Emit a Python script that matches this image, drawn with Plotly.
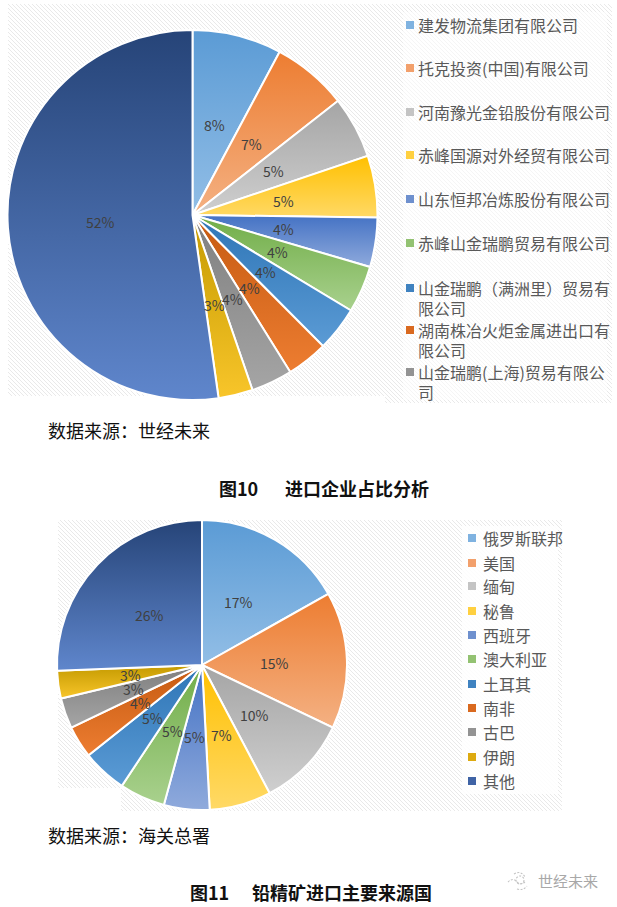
import base64, math
import plotly.graph_objects as go

W, H = 617, 907
FONT = "Noto Sans CJK SC"

# ---- data ----
companies = ["建发物流集团有限公司", "托克投资(中国)有限公司", "河南豫光金铅股份有限公司",
             "赤峰国源对外经贸有限公司", "山东恒邦冶炼股份有限公司", "赤峰山金瑞鹏贸易有限公司",
             "山金瑞鹏（满洲里）贸易有|限公司", "湖南株冶火炬金属进出口有|限公司",
             "山金瑞鹏(上海)贸易有限公|司", "（图例未显示）甲", "（图例未显示）乙"]
company_share = [7.8, 6.6, 5.4, 5.4, 4.3, 4.1, 3.9, 3.6, 3.6, 3.0, 52.2]
company_legend_count = 9

countries = ["俄罗斯联邦", "美国", "缅甸", "秘鲁", "西班牙", "澳大利亚", "土耳其", "南非", "古巴", "伊朗", "其他"]
country_share = [16.9, 15.3, 10.2, 6.9, 5.1, 5.1, 5.0, 3.6, 3.4, 3.1, 25.7]

# ---- style ----
grad_top = ["#5B9BD5", "#ED7D31", "#A5A5A5", "#FFC000", "#4472C4", "#70AD47",
            "#2E75B6", "#C55A11", "#7F7F7F", "#C49A00", "#264478"]
grad_bottom = ["#92BEE6", "#F4B183", "#CFCFCF", "#FFD966", "#8FAADC", "#A9D18E",
               "#5B9BD5", "#ED7D31", "#A5A5A5", "#F8C52A", "#5F86CC"]
legend_swatch = ["#7FB2E0", "#F2A06C", "#C4C4C4", "#FFD040", "#6E90CE", "#93C272",
                 "#3F82C0", "#D9691F", "#939393", "#DDAA10", "#3F63A5"]
label_color = "#404040"
legend_color = "#595959"

pie1 = dict(cx=192.5, cy=215, r=185)
pie2 = dict(cx=202, cy=665, r=145)
legend1_y = [25, 68, 112, 155, 199, 243, 288, 330, 372]
legend2_y = [538, 563, 586, 611, 635, 659, 684, 708, 732, 757, 781]
wrap_gap = 20


def px(x):
    return x / W


def py(y):
    return 1 - y / H


def domain(p):
    return dict(x=[px(p["cx"] - p["r"]), px(p["cx"] + p["r"])],
                y=[py(p["cy"] + p["r"]), py(p["cy"] - p["r"])])


def wedges(values, p, prefix):
    defs, paths, total, acc = [], [], sum(values), 0.0
    for i, v in enumerate(values):
        a0 = acc / total * 2 * math.pi
        acc += v
        a1 = acc / total * 2 * math.pi
        x0, y0 = p["cx"] + p["r"] * math.sin(a0), p["cy"] - p["r"] * math.cos(a0)
        x1, y1 = p["cx"] + p["r"] * math.sin(a1), p["cy"] - p["r"] * math.cos(a1)
        large = 1 if a1 - a0 > math.pi else 0
        gid = f"{prefix}{i}"
        defs.append(f'<linearGradient id="{gid}" x1="0" y1="0" x2="0" y2="1">'
                    f'<stop offset="0" stop-color="{grad_top[i]}"/>'
                    f'<stop offset="1" stop-color="{grad_bottom[i]}"/></linearGradient>')
        paths.append(f'<path d="M{p["cx"]} {p["cy"]}L{x0:.2f} {y0:.2f}A{p["r"]} {p["r"]} 0 {large} 1 {x1:.2f} {y1:.2f}Z" '
                     f'fill="url(#{gid})" stroke="#fff" stroke-width="2"/>')
    return defs, paths


def data_uri(svg):
    return "data:image/svg+xml;base64," + base64.b64encode(svg.encode()).decode()


hatch_svg = f'''<svg xmlns="http://www.w3.org/2000/svg" width="{W}" height="{H}" viewBox="0 0 {W} {H}">
<defs><pattern id="h" width="4" height="4" patternUnits="userSpaceOnUse">
<path d="M-1 -1L5 5M-1 3L1 5M3 -1L5 1" stroke="#E9E9E9" stroke-width="1"/></pattern></defs>
<path fill="url(#h)" d="M8 4H612V403H385V396H8Z"/>
<path fill="url(#h)" d="M58 520H562V811H121V788H58Z"/>
<rect x="462" y="526" width="96" height="268" fill="#fff" fill-opacity="0.85"/>
<rect x="403" y="12" width="204" height="388" fill="#fff" fill-opacity="0.55"/>
</svg>'''

d1, p1 = wedges(company_share, pie1, "a")
d2, p2 = wedges(country_share, pie2, "b")
shade_svg = (f'<svg xmlns="http://www.w3.org/2000/svg" width="{W}" height="{H}" viewBox="0 0 {W} {H}">'
             f'<defs>{"".join(d1 + d2)}</defs>{"".join(p1 + p2)}'
             '<g fill="none" stroke="#C4C4C4" stroke-width="1.1" stroke-dasharray="2 1.5">'
             '<path d="M508 882q5 -5 9 0q4 4 9 -1"/><path d="M514 874q7 -4 11 3"/>'
             '<path d="M517 889q6 2 10 -3"/><circle cx="520" cy="880" r="4"/></g></svg>')

fig = go.Figure()
for vals, labels, p in [(company_share, companies, pie1), (country_share, countries, pie2)]:
    fig.add_trace(go.Pie(labels=[s.replace("|", "") for s in labels], values=vals, sort=False,
                         direction="clockwise", rotation=0,
                         domain=domain(p), textinfo="none", hoverinfo="skip", showlegend=False,
                         marker=dict(colors=grad_top, line=dict(color="#FFFFFF", width=2))))

ann, shapes = [], []


def text(x, y, s, size, color, bold=False, anchor="left"):
    ann.append(dict(x=px(x), y=py(y), xref="paper", yref="paper", text=f"<b>{s}</b>" if bold else s,
                    showarrow=False, xanchor=anchor, yanchor="middle", align="left",
                    font=dict(family=FONT, size=size, color=color), borderpad=0, borderwidth=0))


def pct_labels(values, p):
    total, acc = sum(values), 0.0
    for v in values:
        mid = (acc + v / 2) / total * 2 * math.pi
        acc += v
        text(p["cx"] + 0.5 * p["r"] * math.sin(mid), p["cy"] - 0.5 * p["r"] * math.cos(mid),
             f"{round(v / total * 100)}%", 14, label_color, anchor="center")


pct_labels(company_share, pie1)
pct_labels(country_share, pie2)


def legend(names, ys, sq_x, tx_x):
    for i, (name, y) in enumerate(zip(names, ys)):
        for k, line in enumerate(name.split("|")):
            text(tx_x, y + k * wrap_gap, line, 16, legend_color)
        shapes.append(dict(type="rect", xref="paper", yref="paper", line_width=0, fillcolor=legend_swatch[i],
                           x0=px(sq_x), x1=px(sq_x + 8), y0=py(y + 4), y1=py(y - 4)))


legend(companies[:company_legend_count], legend1_y, 406, 418)
legend(countries, legend2_y, 468, 483)

text(48, 430, "数据来源：世经未来", 18, "#111111")
text(48, 835, "数据来源：海关总署", 18, "#111111")
text(219, 488, "图10", 18, "#111111", bold=True)
text(285, 488, "进口企业占比分析", 18, "#111111", bold=True)
text(190, 892, "图11", 18, "#111111", bold=True)
text(252, 892, "铅精矿进口主要来源国", 18, "#111111", bold=True)
text(538, 880, "世经未来", 15, "#A8A8A8")

fig.update_layout(
    width=W, height=H, margin=dict(l=0, r=0, t=0, b=0), autosize=False,
    paper_bgcolor="#FFFFFF", plot_bgcolor="rgba(0,0,0,0)",
    annotations=ann, shapes=shapes,
    images=[
        dict(source=data_uri(hatch_svg), xref="paper", yref="paper", x=0, y=1, sizex=1, sizey=1,
             xanchor="left", yanchor="top", sizing="stretch", layer="below"),
        dict(source=data_uri(shade_svg), xref="paper", yref="paper", x=0, y=1, sizex=1, sizey=1,
             xanchor="left", yanchor="top", sizing="stretch", layer="above"),
    ],
)
fig.write_html("out.html", config=dict(displayModeBar=False),
               post_script="document.body.style.margin='0';document.documentElement.style.overflow='hidden';")
